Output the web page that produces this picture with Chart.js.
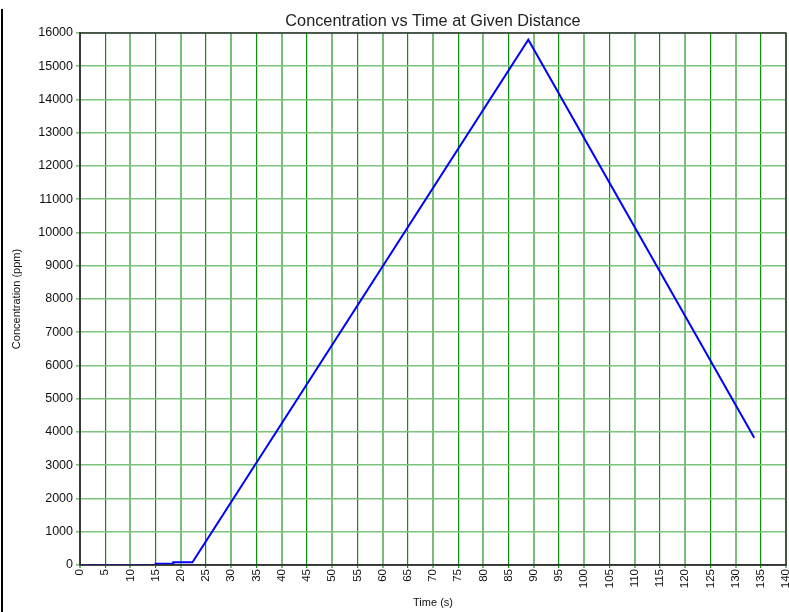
<!DOCTYPE html>
<html>
<head>
<meta charset="utf-8">
<script src="https://cdn.jsdelivr.net/npm/chart.js@4/dist/chart.umd.min.js"></script>
<style>
  html, body { margin: 0; padding: 0; background: #fff; }
  #wrap { position: relative; width: 789px; height: 612px; }
  #edge { position: absolute; left: 1px; top: 9px; width: 2px; height: 603px; background: #000; }
  canvas { position: absolute; left: 0; top: 0; }
</style>
</head>
<body>
<div id="wrap">
  <canvas id="chart" width="789" height="612"></canvas>
  <div id="edge"></div>
</div>
<script>
// Time (s) and concentration (ppm) at the given distance
const times          = [0, 15, 15, 18.5, 18.5, 22.3, 88.9, 133.7];
const concentrations = [0,  0, 40,   40,   80,   80, 15800, 3830];

const chartTitle = 'Concentration vs Time at Given Distance';
const xTitle = 'Time (s)';
const yTitle = 'Concentration (ppm)';

const points = times.map((t, i) => ({ x: t, y: concentrations[i] }));

// Title centred over the plot area, plus a frame around the plot
const framePlugin = {
  id: 'frameAndTitle',
  afterDraw(chart) {
    const { ctx, chartArea: a } = chart;
    ctx.save();
    ctx.strokeStyle = '#333';
    ctx.lineWidth = 1.5;
    ctx.strokeRect(a.left, a.top, a.right - a.left, a.bottom - a.top);
    ctx.fillStyle = '#222';
    ctx.font = '16.3px "Liberation Sans", Arial, sans-serif';
    ctx.textAlign = 'center';
    ctx.textBaseline = 'alphabetic';
    ctx.fillText(chartTitle, (a.left + a.right) / 2, 26);
    ctx.restore();
  }
};

new Chart(document.getElementById('chart'), {
  type: 'line',
  data: {
    datasets: [{
      data: points,
      borderColor: '#0000ff',
      borderWidth: 2,
      pointRadius: 0,
      tension: 0,
      fill: false
    }]
  },
  options: {
    responsive: false,
    animation: false,
    devicePixelRatio: 1,
    layout: { padding: { top: 33, right: 3, left: 0, bottom: 0 } },
    plugins: { legend: { display: false }, tooltip: { enabled: false } },
    scales: {
      x: {
        type: 'linear',
        min: 0,
        max: 140,
        afterFit(s) { s.height = 47; s.paddingLeft = 0; s.paddingRight = 0; },
        border: { display: true, color: '#333', width: 1.5 },
        grid: {
          color: c => (Math.round(c.tick.value / 5) % 2 === 1) ? '#0a900a' : '#78c078',
          lineWidth: c => (Math.round(c.tick.value / 5) % 2 === 1) ? 1.2 : 2,
          tickLength: 3,
          drawTicks: true
        },
        ticks: {
          stepSize: 5,
          autoSkip: false,
          minRotation: 90,
          maxRotation: 90,
          padding: 1,
          color: '#111',
          callback: v => String(v),
          font: { family: '"Liberation Sans", Arial, sans-serif', size: 11.5 }
        },
        title: {
          display: true,
          text: xTitle,
          color: '#111',
          padding: { top: 0, bottom: 2 },
          font: { family: '"Liberation Sans", Arial, sans-serif', size: 11 }
        }
      },
      y: {
        min: 0,
        max: 16000,
        afterFit(s) { s.width = 80; s.paddingTop = 0; s.paddingBottom = 0; },
        border: { display: true, color: '#555', width: 2 },
        grid: {
          color: '#7cc47c',
          lineWidth: 1.6,
          tickLength: 4
        },
        ticks: {
          stepSize: 1000,
          padding: 3,
          color: '#111',
          callback: v => String(v),
          font: { family: '"Liberation Sans", Arial, sans-serif', size: 12.5 }
        },
        title: {
          display: true,
          text: yTitle,
          color: '#111',
          padding: { top: 10, bottom: 0 },
          font: { family: '"Liberation Sans", Arial, sans-serif', size: 11 }
        }
      }
    }
  },
  plugins: [framePlugin]
});
</script>
</body>
</html>
